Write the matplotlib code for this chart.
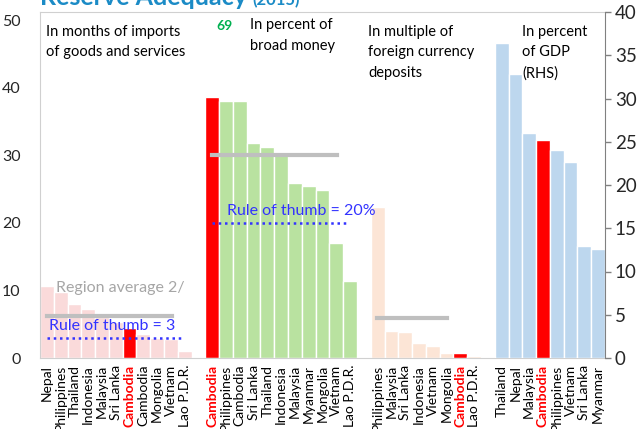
import matplotlib
matplotlib.use("Agg")
import numpy as np
import matplotlib.pyplot as plt

# data
g1_names = ['Nepal', 'Philippines', 'Thailand', 'Indonesia', 'Malaysia', 'Sri Lanka',
            'Cambodia', 'Cambodia', 'Mongolia', 'Vietnam', 'Lao P.D.R.']
g1_vals = [10.7, 9.7, 8.0, 7.2, 6.0, 5.4, 4.5, 3.5, 2.9, 2.8, 1.1]
g1_avg = 6.2
g1_rule = 3

g2_names = ['Cambodia', 'Philippines', 'Cambodia', 'Sri Lanka', 'Thailand', 'Indonesia',
            'Malaysia', 'Myanmar', 'Mongolia', 'Vietnam', 'Lao P.D.R.']
g2_vals = [38.6, 38.0, 38.0, 31.8, 31.2, 30.2, 25.9, 25.4, 24.9, 17.0, 11.4]
g2_avg = 30
g2_rule = 20

g3_names = ['Philippines', 'Malaysia', 'Sri Lanka', 'Indonesia', 'Vietnam', 'Mongolia',
            'Cambodia', 'Lao P.D.R.']
g3_vals = [22.3, 4.0, 3.85, 2.2, 1.75, 0.7, 0.8, 0.35]
g3_avg = 5.9

g4_names = ['Thailand', 'Nepal', 'Malaysia', 'Cambodia', 'Philippines', 'Vietnam',
            'Sri Lanka', 'Myanmar']
g4_vals = [36.4, 32.8, 26.0, 25.2, 24.05, 22.7, 12.9, 12.6]

# which bar is the highlighted Cambodia in each group
hi1, hi2, hi3, hi4 = 6, 0, 6, 3

FONT = 'Lato'
plt.rcParams['font.family'] = [FONT, 'DejaVu Sans']

fig = plt.figure(figsize=(6.41, 4.29), dpi=100)
W, H = 641, 429
ax = fig.add_axes([40 / W, 1 - 358 / H, 565 / W, 346 / H])
ax2 = ax.twinx()

# slot positions, one empty slot between groups
x1 = np.arange(len(g1_names))
x2 = x1[-1] + 2 + np.arange(len(g2_names))
x3 = x2[-1] + 2 + np.arange(len(g3_names))
x4 = x3[-1] + 2 + np.arange(len(g4_names))

def colors(n, base, hi):
    c = [base] * n
    c[hi] = '#FF0000'
    return c

ax.bar(x1, g1_vals, width=1.0, color=colors(len(x1), '#FADADA', hi1), edgecolor='white', linewidth=1, zorder=2)
ax.bar(x2, g2_vals, width=1.0, color=colors(len(x2), '#B9E2A0', hi2), edgecolor='white', linewidth=1, zorder=2)
ax.bar(x3, g3_vals, width=1.0, color=colors(len(x3), '#FCE5D6', hi3), edgecolor='white', linewidth=1, zorder=2)
ax2.bar(x4, g4_vals, width=1.0, color=colors(len(x4), '#BDD7EE', hi4), edgecolor='white', linewidth=1, zorder=2)

# averages and rules of thumb
ax.plot([-0.0, 9.1], [g1_avg, g1_avg], color='#BFBFBF', lw=3, zorder=3)
ax.plot([0.0, 9.85], [g1_rule, g1_rule], color='#3333FF', lw=1.8, ls=(0, (1, 1.5)), zorder=3)
ax.plot([11.95, 21.05], [g2_avg, g2_avg], color='#BFBFBF', lw=3, zorder=3)
ax.plot([11.95, 21.8], [g2_rule, g2_rule], color='#3333FF', lw=1.8, ls=(0, (1, 1.5)), zorder=3)
ax.plot([23.95, 29.05], [g3_avg, g3_avg], color='#BFBFBF', lw=3, zorder=3)

ax.text(5.35, 10.35, 'Region average 2/', color='#A6A6A6', fontsize=11.5, ha='center', va='center', zorder=4)
ax.text(4.75, 4.7, 'Rule of thumb = 3', color='#3333FF', fontsize=11.5, ha='center', va='center', zorder=4)
ax.text(18.45, 21.7, 'Rule of thumb = 20%', color='#3333FF', fontsize=11.5, ha='center', va='center', zorder=4)

ax.text(-0.1, 49.3, 'In months of imports\nof goods and services', fontsize=10.5, ha='left', va='top', linespacing=1.6)
ax.text(14.75, 50.3, 'In percent of\nbroad money', fontsize=10.5, ha='left', va='top', linespacing=1.6)
ax.text(23.3, 49.3, 'In multiple of\nforeign currency\ndeposits', fontsize=10.5, ha='left', va='top', linespacing=1.6)
ax.text(34.5, 49.3, 'In percent\nof GDP\n(RHS)', fontsize=10.5, ha='left', va='top', linespacing=1.6)
ax.text(12.9, 49.2, '69', color='#00B050', fontsize=10, fontweight='bold', ha='center', va='center')

# title, cut by the top of the picture
t = fig.text(40 / W, 1 - 5 / H, 'Reserve Adequacy', color='#1B8BC6', fontsize=18, fontweight='bold', va='baseline')
r = fig.canvas.get_renderer()
bb = t.get_window_extent(renderer=r)
fig.text((bb.x1 + 5) / W, 1 - 5 / H, '(2015)', color='#1B8BC6', fontsize=12, fontweight='bold', va='baseline')

# axes
ax.set_xlim(-0.5, x4[-1] + 0.5)
ax.set_ylim(0, 51.2)
ax.set_yticks([0, 10, 20, 30, 40, 50])
ax2.set_ylim(0, 40)
ax2.set_yticks([0, 5, 10, 15, 20, 25, 30, 35, 40])

xs = np.concatenate([x1, x2, x3, x4])
names = g1_names + g2_names + g3_names + g4_names
ax.set_xticks(xs)
ax.set_xticklabels(names, rotation=90, fontsize=10)
hi_idx = [hi1, len(x1) + hi2, len(x1) + len(x2) + hi3, len(x1) + len(x2) + len(x3) + hi4]
for i, lab in enumerate(ax.get_xticklabels()):
    if i in hi_idx:
        lab.set_color('#FF0000')
        lab.set_fontweight('bold')
ax.tick_params(axis='x', length=0, pad=5)
ax.tick_params(axis='y', length=0, pad=14, labelsize=11.5, colors='#262626')
ax2.tick_params(axis='y', length=4, width=1, color='#808080', pad=3, labelsize=13.5, labelcolor='#262626')

for s in ['left', 'top', 'bottom']:
    ax.spines[s].set_color('#D0D0D0')
for s in ['left', 'top', 'bottom']:
    ax2.spines[s].set_visible(False)
ax.spines['right'].set_visible(False)
ax2.spines['right'].set_color('#808080')

fig.savefig('out.png', dpi=100)
